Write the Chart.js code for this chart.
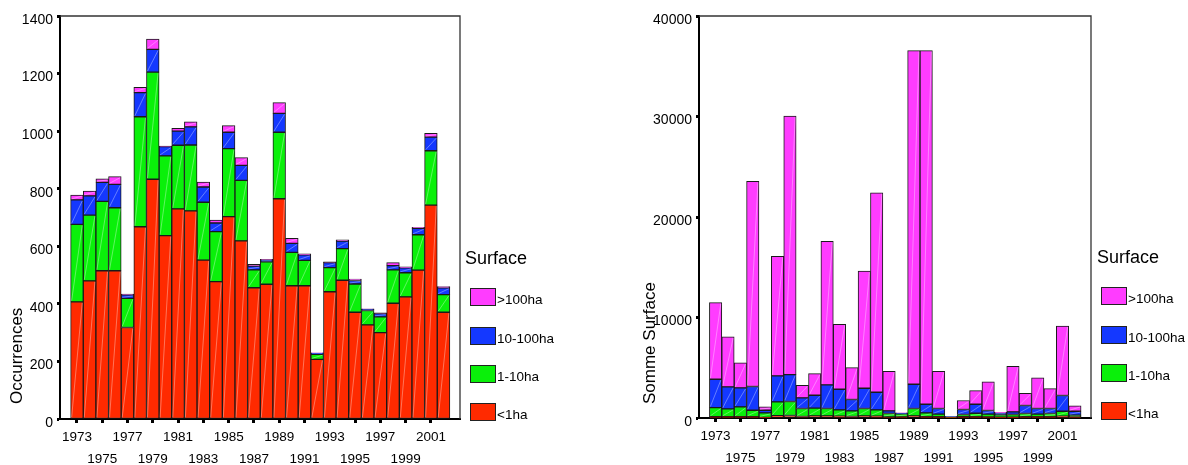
<!DOCTYPE html>
<html>
<head>
<meta charset="utf-8">
<script src="https://cdn.jsdelivr.net/npm/chart.js@4.4.0/dist/chart.umd.min.js"></script>
<style>
  body { margin: 0; background: #fff; width: 1188px; height: 465px; position: relative; overflow: hidden;
         font-family: "Liberation Sans", Arial, sans-serif; color: #000; }
  .wrap { position: absolute; top: 0; height: 465px; }
  #leftWrap { left: 0; width: 470px; }
  #rightWrap { left: 630px; width: 471px; }
  .ytitle { position: absolute; font-size: 17px; white-space: nowrap; transform-origin: left top; transform: rotate(-90deg); }
  .legTitle { position: absolute; font-size: 18px; white-space: nowrap; }
  .legBox { position: absolute; width: 24px; height: 16px; border: 1px solid #222; }
  .legText { position: absolute; font-size: 13.5px; white-space: nowrap; }
</style>
</head>
<body>
<div class="wrap" id="leftWrap"><canvas id="occChart" width="470" height="465"></canvas></div>
<div class="wrap" id="rightWrap"><canvas id="surfChart" width="471" height="465"></canvas></div>
<div class="ytitle" style="left:7px; top:404px;">Occurrences</div>
<div class="ytitle" style="left:640px; top:404px;">Somme Surface</div>
<div id="legends"></div>

<script>
// années
const years = [1973, 1974, 1975, 1976, 1977, 1978, 1979, 1980, 1981, 1982,
               1983, 1984, 1985, 1986, 1987, 1988, 1989, 1990, 1991, 1992,
               1993, 1994, 1995, 1996, 1997, 1998, 1999, 2000, 2001, 2002];

// classes de surface (ordre d'empilement, du bas vers le haut)
const classes = ['<1ha', '1-10ha', '10-100ha', '>100ha'];
const colors = ['#ff2a00', '#0af00a', '#1438ff', '#ff3cff'];

// nombre de feux par classe
const occLt1     = [407, 480, 515, 515, 318, 668, 833, 637, 730, 723, 552, 477, 703, 619, 456, 468, 765, 463, 463, 207, 442, 482, 371, 327, 300, 402, 424, 517, 743, 371];
const occ1to10   = [269, 228, 241, 219, 101, 382, 372, 277, 221, 229, 201, 174, 236, 210, 62, 78, 231, 116, 88, 18, 84, 110, 98, 50, 55, 116, 84, 123, 189, 61];
const occ10to100 = [85, 67, 66, 81, 12, 84, 79, 32, 49, 63, 53, 30, 57, 52, 13, 7, 66, 31, 19, 4, 17, 26, 12, 4, 11, 15, 17, 22, 47, 24];
const occGt100   = [17, 17, 12, 27, 3, 18, 36, 2, 10, 17, 17, 10, 23, 27, 6, 2, 37, 18, 4, 1, 3, 4, 5, 2, 3, 10, 4, 4, 13, 4];

// surface brûlée (ha) par classe
const surfLt1     = [120, 130, 130, 130, 60, 230, 250, 150, 200, 200, 180, 150, 200, 180, 100, 110, 200, 130, 120, 70, 120, 140, 110, 90, 90, 120, 130, 140, 180, 110];
const surf1to10   = [920, 780, 975, 645, 450, 1370, 1390, 795, 775, 745, 625, 555, 745, 625, 345, 300, 745, 380, 260, 50, 230, 335, 270, 230, 260, 325, 250, 305, 495, 170];
const surf10to100 = [2820, 2187, 1890, 2355, 265, 2590, 2680, 1055, 1290, 2345, 2060, 1135, 2015, 1760, 260, 90, 2415, 860, 565, 20, 495, 895, 365, 180, 260, 795, 565, 500, 1560, 395];
const surfGt100   = [7620, 4970, 2485, 20410, 330, 11895, 25710, 1260, 2155, 14285, 6460, 3180, 11660, 19850, 3945, 10, 33200, 35190, 3705, 10, 895, 1360, 2845, 75, 4540, 1225, 3045, 1985, 6920, 525];

// cadre haut/droite + trait diagonal clair dans chaque barre (style SPSS)
const framePlugin = {
  id: 'frame',
  afterDatasetsDraw(chart) {
    const ctx = chart.ctx;
    ctx.save();
    ctx.strokeStyle = 'rgba(255,255,255,0.35)';
    ctx.lineWidth = 1;
    chart.data.datasets.forEach((ds, i) => {
      chart.getDatasetMeta(i).data.forEach(el => {
        const p = el.getProps(['x', 'y', 'base', 'width'], true);
        if (Math.abs(p.base - p.y) < 3) return;
        ctx.beginPath();
        ctx.moveTo(p.x - p.width / 2 + 1, Math.max(p.base, p.y) - 1);
        ctx.lineTo(p.x + p.width / 2 - 1, Math.min(p.base, p.y) + 1);
        ctx.stroke();
      });
    });
    ctx.restore();
  },
  afterDraw(chart) {
    const a = chart.chartArea;
    const ctx = chart.ctx;
    ctx.save();
    ctx.strokeStyle = '#333';
    ctx.lineWidth = 1.3;
    ctx.beginPath();
    ctx.moveTo(a.left, a.top);
    ctx.lineTo(a.right, a.top);
    ctx.lineTo(a.right, a.bottom);
    ctx.stroke();
    ctx.restore();
  }
};

function makeChart(id, series, yMax, yStep, yWidth, xHeight) {
  const datasets = series.map((arr, i) => ({
    label: classes[i],
    data: years.map((yr, j) => ({ x: yr, y: arr[j] })),
    backgroundColor: colors[i],
    borderColor: '#1a1a1a',
    borderWidth: 1,
    borderSkipped: false,
    barPercentage: 1,
    categoryPercentage: 1
  }));

  return new Chart(document.getElementById(id), {
    type: 'bar',
    data: { datasets: datasets },
    options: {
      responsive: false,
      animation: false,
      layout: { padding: { top: 16, right: 10, left: 0, bottom: 0 } },
      plugins: { legend: { display: false }, tooltip: { enabled: false } },
      scales: {
        x: {
          type: 'linear',
          stacked: true,
          offset: false,
          min: 1971.66,
          max: 2003.3,
          afterBuildTicks: (scale) => {
            scale.ticks = years.filter((y, i) => i % 2 === 0).map(v => ({ value: v }));
          },
          afterFit: (scale) => { scale.height = xHeight; },
          grid: { offset: false, drawOnChartArea: false, drawTicks: true, tickLength: 4, tickWidth: 3, tickColor: '#000' },
          border: { color: '#000', width: 2 },
          ticks: {
            autoSkip: false,
            maxRotation: 0,
            padding: 3,
            color: '#000',
            font: { family: '"Liberation Sans", Arial, sans-serif', size: 13.5, lineHeight: 1.63 },
            callback: (value, index) => index % 2 === 0 ? [String(value), ''] : ['', String(value)]
          }
        },
        y: {
          stacked: true,
          min: 0,
          max: yMax,
          afterFit: (scale) => { scale.width = yWidth; },
          grid: { drawOnChartArea: false, drawTicks: true, tickLength: 3, tickWidth: 3, tickColor: '#000' },
          border: { color: '#000', width: 2 },
          ticks: {
            stepSize: yStep,
            padding: 4,
            labelOffset: 4,
            color: '#000',
            font: { family: '"Liberation Sans", Arial, sans-serif', size: 14 },
            callback: (value) => String(value)
          }
        }
      }
    },
    plugins: [framePlugin]
  });
}

makeChart('occChart', [occLt1, occ1to10, occ10to100, occGt100], 1400, 200, 60, 46);
makeChart('surfChart', [surfLt1, surf1to10, surf10to100, surfGt100], 40000, 10000, 69, 47);

// légendes (du haut vers le bas : >100ha ... <1ha)
function makeLegend(titleX, titleY, boxX, boxTops) {
  const root = document.getElementById('legends');
  const t = document.createElement('div');
  t.className = 'legTitle';
  t.textContent = 'Surface';
  t.style.left = titleX + 'px';
  t.style.top = titleY + 'px';
  root.appendChild(t);
  for (let k = 0; k < classes.length; k++) {
    const ci = classes.length - 1 - k;
    const b = document.createElement('div');
    b.className = 'legBox';
    b.style.left = boxX + 'px';
    b.style.top = boxTops[k] + 'px';
    b.style.background = colors[ci];
    root.appendChild(b);
    const s = document.createElement('div');
    s.className = 'legText';
    s.textContent = classes[ci];
    s.style.left = (boxX + 27) + 'px';
    s.style.top = (boxTops[k] + 4) + 'px';
    root.appendChild(s);
  }
}
makeLegend(465, 248, 470, [288, 327, 365, 403]);
makeLegend(1097, 247, 1101, [287, 326, 364, 402]);
</script>
</body>
</html>
